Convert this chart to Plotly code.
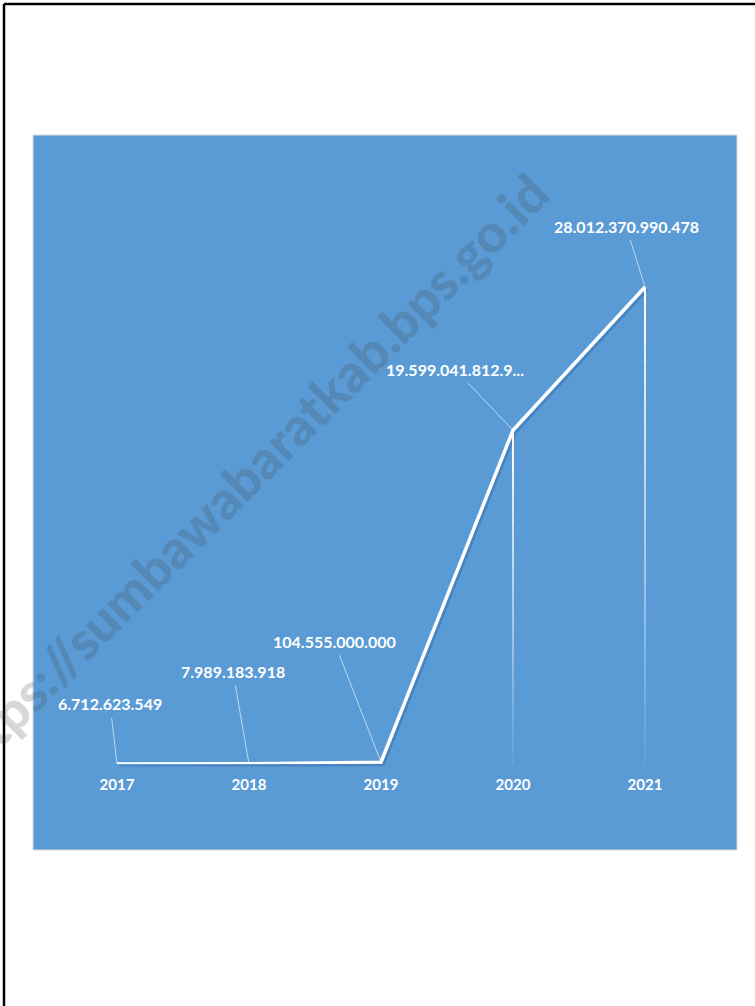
import plotly.graph_objects as go

years = ["2017", "2018", "2019", "2020", "2021"]
values = [6712623549, 7989183918, 104555000000, 19599041812900, 28012370990478]
labels = ["6.712.623.549", "7.989.183.918", "104.555.000.000", "19.599.041.812.9...", "28.012.370.990.478"]
label_dx = [-7, -16, -47, -58, -19]
label_dy = [-60, -92, -121, -61, -61]
watermark = "https://sumbawabaratkab.bps.go.id"

W, H = 755, 1006
BLUE = "#5B9BD5"
FONT = "Lato"

def px_x(p):
    return p / W

def px_y(p):
    return 1 - p / H

y_range_max = 36.645e12

fig = go.Figure()

# shadow of the line (on slightly offset axes)
fig.add_trace(go.Scatter(
    x=years, y=values, mode="lines", xaxis="x2", yaxis="y2",
    line=dict(color="rgba(40,85,150,0.35)", width=2.5),
    hoverinfo="skip", showlegend=False,
))
fig.add_trace(go.Scatter(
    x=years, y=values, mode="lines",
    line=dict(color="white", width=3.5),
    hoverinfo="skip", showlegend=False,
))

shapes = []
# page border
shapes.append(dict(type="line", xref="paper", yref="paper", x0=px_x(4), x1=px_x(4), y0=0, y1=px_y(4),
                   line=dict(color="black", width=2.5), layer="above"))
shapes.append(dict(type="line", xref="paper", yref="paper", x0=px_x(4), x1=1, y0=px_y(4), y1=px_y(4),
                   line=dict(color="black", width=2.5), layer="above"))
# blue chart area
shapes.append(dict(type="rect", xref="paper", yref="paper", x0=px_x(33), x1=px_x(737), y0=px_y(850), y1=px_y(135),
                   fillcolor=BLUE, line=dict(color="#D9D9D9", width=1), layer="below"))
# fading drop lines (category index positions)
N = 24
for i, v in enumerate(values):
    for k in range(N):
        y0 = v * (1 - k / N)
        y1 = v * (1 - (k + 1) / N)
        op = max(0.05, 1 - (k + 0.5) / N * 0.95)
        shapes.append(dict(type="line", xref="x", yref="y", x0=i, x1=i, y0=y0, y1=y1,
                           line=dict(color=f"rgba(255,255,255,{op:.3f})", width=2), layer="above"))

annotations = []
for i, (v, t, dx, dy) in enumerate(zip(values, labels, label_dx, label_dy)):
    annotations.append(dict(
        x=i, y=v, xref="x", yref="y", text=t, showarrow=True,
        ax=dx, ay=dy, arrowhead=0, arrowwidth=1, arrowcolor="rgba(255,255,255,0.6)",
        borderpad=4,
        font=dict(family=FONT, size=16, color="white", weight="bold"),
    ))
annotations.append(dict(
    x=px_x(244), y=px_y(476), xref="paper", yref="paper", text=watermark, showarrow=False,
    xanchor="center", yanchor="middle",
    textangle=-45, font=dict(family=FONT, size=53, color="rgba(60,60,60,0.2)", weight=900),
))

dom_x = [px_x(51), px_x(711)]
dom_y = [px_y(764), px_y(140)]
sh = 2.5
dom_x2 = [px_x(51 + sh), px_x(711 + sh)]
dom_y2 = [px_y(764 + sh), px_y(140 + sh)]

fig.update_layout(
    width=W, height=H,
    margin=dict(l=0, r=0, t=0, b=0),
    paper_bgcolor="white", plot_bgcolor="rgba(0,0,0,0)",
    showlegend=False,
    shapes=shapes, annotations=annotations,
    xaxis=dict(domain=dom_x, type="category", range=[-0.5, 4.5], showgrid=False, zeroline=False,
               showline=False, ticks="", ticklabelstandoff=10,
               tickfont=dict(family=FONT, size=15, color="white", weight="bold")),
    yaxis=dict(domain=dom_y, range=[0, y_range_max], showgrid=False, zeroline=False,
               showline=False, showticklabels=False),
    xaxis2=dict(domain=dom_x2, type="category", range=[-0.5, 4.5], anchor="y2", visible=False),
    yaxis2=dict(domain=dom_y2, range=[0, y_range_max], anchor="x2", visible=False),
)

fig.write_html("out.html", config={"displayModeBar": False},
               post_script="document.body.style.margin='0';document.body.style.overflow='hidden';")
